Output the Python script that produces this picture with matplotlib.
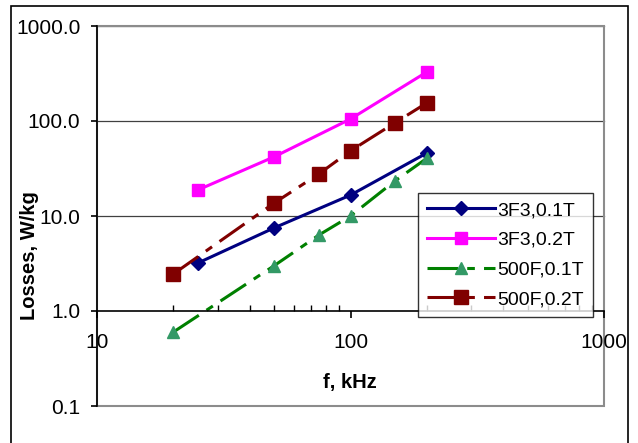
import matplotlib
matplotlib.use("Agg")
import matplotlib.pyplot as plt
from matplotlib.patches import Rectangle
from matplotlib.ticker import FixedLocator, FormatStrFormatter, LogLocator, NullFormatter

plt.rcParams['font.family'] = ['Liberation Sans', 'DejaVu Sans']

# Data (f in kHz, losses in W/kg)
f_3f3 = [25, 50, 100, 200]
loss_3f3_01 = [3.2, 7.5, 16.6, 46]
loss_3f3_02 = [18.8, 42, 105, 328]

f_500f = [20, 50, 75, 100, 150, 200]
loss_500f_01 = [0.60, 3.0, 6.3, 10.0, 23.5, 40.5]
loss_500f_02 = [2.45, 13.7, 27.7, 48.5, 96, 155]

labels = ["3F3,0.1T", "3F3,0.2T", "500F,0.1T", "500F,0.2T"]

fig = plt.figure(figsize=(6.38, 4.43), dpi=100)
ax = fig.add_axes([97 / 638, 37 / 443, 507 / 638, 380 / 443])

# outer chart frame
fig.patches.append(Rectangle((11 / 638, -0.05), 617 / 638, 1.05 - 6 / 443,
                             transform=fig.transFigure, fill=False,
                             edgecolor='black', linewidth=1.2))

dash = (10, 3, 2.5, 3)
ax.plot(f_3f3, loss_3f3_01, color='#000080', lw=2.2, marker='D', ms=7,
        label=labels[0])
ax.plot(f_3f3, loss_3f3_02, color='#FF00FF', lw=2.2, marker='s', ms=8.5,
        label=labels[1])
ax.plot(f_500f, loss_500f_01, color='#008000', lw=2.2, dashes=dash,
        marker='^', ms=9, mfc='#339966', mec='#339966', label=labels[2])
ax.plot(f_500f, loss_500f_02, color='#800000', lw=2.2, dashes=dash,
        marker='s', ms=10, label=labels[3])

ax.set_xscale('log')
ax.set_yscale('log')
ax.set_xlim(10, 1000)
ax.set_ylim(0.1, 1000)

# horizontal gridlines and gray plot-area border
for yv in [10, 100, 1000]:
    ax.axhline(yv, color='#404040', lw=0.9, zorder=0, clip_on=False)
ax.add_patch(Rectangle((0, 0), 1, 1, transform=ax.transAxes, fill=False,
                       edgecolor='#8c8c8c', lw=1.5, zorder=0, clip_on=False))

for s in ['top', 'right']:
    ax.spines[s].set_visible(False)
ax.spines['bottom'].set_position(('data', 1))
ax.spines['bottom'].set_linewidth(1.2)
ax.spines['left'].set_linewidth(1.2)

ax.yaxis.set_major_locator(FixedLocator([0.1, 1, 10, 100, 1000]))
ax.yaxis.set_major_formatter(FormatStrFormatter('%.1f'))
ax.yaxis.set_minor_locator(FixedLocator([]))
ax.xaxis.set_major_locator(FixedLocator([10, 100, 1000]))
ax.xaxis.set_major_formatter(FormatStrFormatter('%d'))
ax.xaxis.set_minor_locator(LogLocator(base=10, subs=range(2, 10)))
ax.xaxis.set_minor_formatter(NullFormatter())

ax.tick_params(axis='y', which='major', direction='out', length=4, width=1.2,
               pad=8, labelsize=15)
ax.tick_params(axis='x', which='major', direction='out', length=5, width=1.2,
               pad=11, labelsize=15)
ax.tick_params(axis='x', which='minor', direction='in', length=4, width=1)

ax.set_xlabel("f, kHz", fontsize=14.5, fontweight='bold')
ax.xaxis.set_label_coords(0.499, 0.087)
ax.set_ylabel("Losses, W/kg", fontsize=14.5, fontweight='bold')
ax.yaxis.set_label_coords(-0.115, 0.395)

leg = ax.legend(loc='upper left', bbox_to_anchor=(0.633, 0.561), fontsize=14,
                frameon=True, fancybox=False, edgecolor='black',
                handlelength=3.5, handletextpad=0.15, labelspacing=0.62,
                borderpad=0.45, borderaxespad=0)
leg.get_frame().set_linewidth(1.0)
leg.set_zorder(5)

fig.savefig("out.png", dpi=100)
